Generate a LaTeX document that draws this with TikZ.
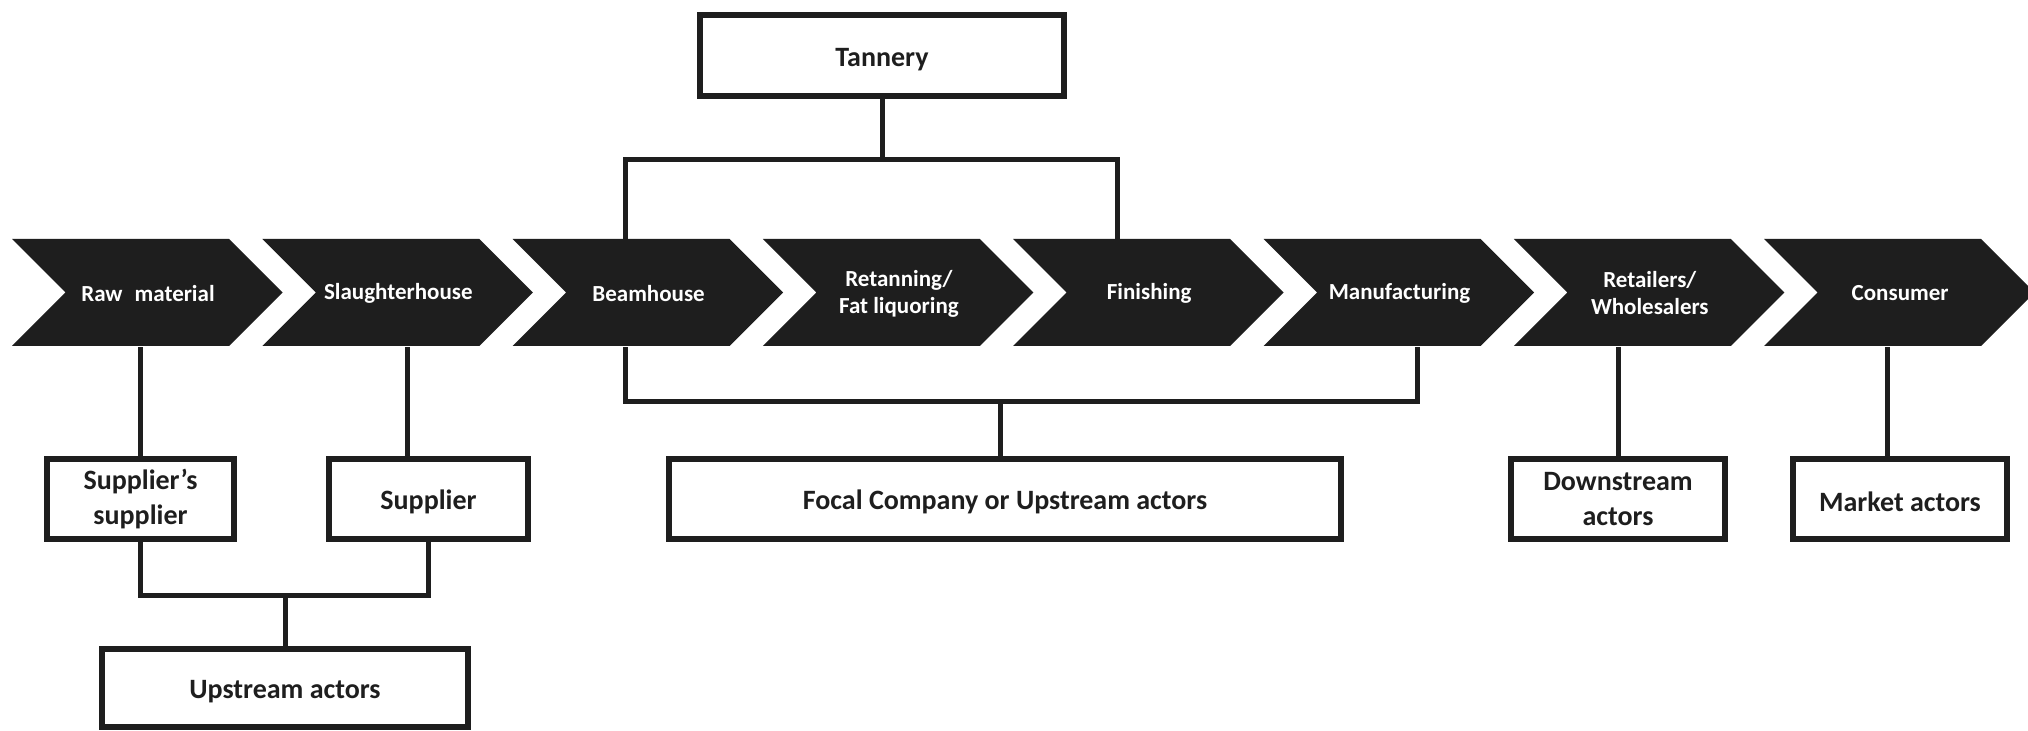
\documentclass[tikz,border=0pt]{standalone}
\usepackage{fontspec}
\setmainfont{Carlito}
\definecolor{ink}{HTML}{1E1E1E}
\tikzset{
  chevfill/.style={fill=ink},
  chevlabel/.style={text=white, font=\fontsize{11.5}{13.5}\selectfont\bfseries,
    align=center, inner sep=0pt, minimum height=53.5pt, minimum width=80pt},
  actor/.style={draw=ink, line width=3pt, text=ink,
    font=\fontsize{14}{17.5}\selectfont\bfseries, align=center, inner sep=0pt,
    minimum height=40pt, execute at begin node={\rule{0pt}{13pt}}},
  link/.style={draw=ink, line width=2.5pt, line join=miter},
}
\begin{document}
\begin{tikzpicture}[x=0.5pt, y=-0.5pt]
  \fill[white] (0,0) rectangle (2028,731);
  \useasboundingbox (0,0) rectangle (2028,731);

  % value chain: chevron steps
  \foreach \i/\lab in {0/{Raw\hspace{0.3em} material}, 1/Slaughterhouse, 2/Beamhouse,
      3/{Retanning/\\Fat liquoring}, 4/Finishing, 5/Manufacturing,
      6/{Retailers/\\Wholesalers}, 7/Consumer} {
    \pgfmathsetmacro\xo{12+250.3*\i}
    \fill[chevfill] (\xo,239) -- ++(217,0) -- ++(53.5,53.5) -- ++(-53.5,53.5)
      -- ++(-217,0) -- ++(53.5,-53.5) -- cycle;
    \node[chevlabel] (c\i) at (\xo+136,293.5) {\lab};
  }

  % actor boxes
  \node[actor, minimum width=182pt, minimum height=40.5pt] (tannery) at (882,55.5) {Tannery};
  \node[actor, minimum width=93.5pt] (ss) at (140.5,499) {Supplier’s\\supplier};
  \node[actor, minimum width=99.5pt] (sup) at (428.5,499) {Supplier};
  \node[actor, minimum width=183pt, minimum height=39pt] (up) at (285,688) {Upstream actors};
  \node[actor, minimum width=336pt] (focal) at (1005,499) {Focal Company or Upstream actors};
  \node[actor, minimum width=107pt] (down) at (1618,499) {Downstream\\actors};
  \node[actor, minimum width=107pt] (market) at (1900,499) {Market actors};

  % tannery bracket over beamhouse .. finishing
  \coordinate (tj) at (tannery.south |- 0,160);
  \coordinate (bhTop) at ([xshift=-11.8pt]c2.north);
  \coordinate (fiTop) at ([xshift=-16.1pt]c4.north);
  \draw[link] (tannery.south) -- (tj);
  \draw[link] (bhTop) |- (tj) -| (fiTop);

  % focal company bracket under beamhouse .. manufacturing
  \coordinate (bhBot) at ([xshift=-11.5pt]c2.south);
  \coordinate (mfBot) at ([xshift=8.75pt]c5.south);
  \coordinate (fj) at (1000,402);
  \draw[link] (bhBot) |- (fj) -| (mfBot);
  \draw[link] (fj) -- (fj |- focal.north);

  % upstream side
  \draw[link] (c0.south -| ss.north) -- (ss.north);
  \coordinate (shBot) at ([xshift=-10.75pt]sup.north);
  \draw[link] (shBot |- c1.south) -- (shBot);
  \coordinate (uj) at (up.north |- 0,595);
  \draw[link] (ss.south) |- (uj) -| (sup.south);
  \draw[link] (uj) -- (up.north);

  % downstream side
  \draw[link] (c6.south -| down.north) -- (down.north);
  \coordinate (mkTop) at ([xshift=-6.5pt]market.north);
  \draw[link] (mkTop |- c7.south) -- (mkTop);
\end{tikzpicture}
\end{document}
